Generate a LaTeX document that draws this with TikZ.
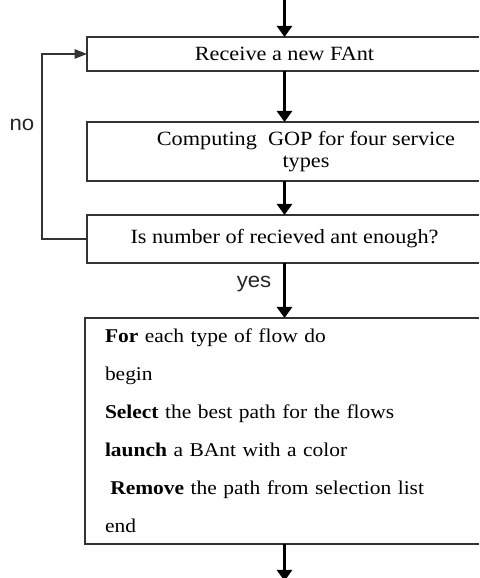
\documentclass[tikz,border=0pt]{standalone}
\usepackage{fontspec}
\setmainfont{Liberation Serif}[FakeStretch=1.1]
\setsansfont{Liberation Sans}[FakeStretch=1.05]
\usetikzlibrary{arrows.meta}
\newcommand\openbox[1]{\draw[frame] (#1.north -| edge) -- (#1.north west) -- (#1.south west) -- (#1.south -| edge);}

\begin{document}
\begin{tikzpicture}[every node/.style={outer sep=0pt, font=\fontsize{11.5}{12.5}\selectfont},
  stage/.style={minimum height=#1, align=center},
  frame/.style={draw=black!80, line width=0.8pt},
  flowarrow/.style={line width=2.2pt, -{Triangle[width=0.3cm,length=0.22cm]}},
  backarrow/.style={draw=black!80, line width=0.8pt, -{Triangle[width=0.19cm,length=0.25cm]}},
  answer/.style={font=\sffamily\fontsize{12}{13}\selectfont, text=black!85}]
\useasboundingbox (0,0) rectangle (9.58,11.56);
\coordinate (edge) at (9.58,0);

\node[stage=0.68cm, minimum width=7.9cm] (recv) at (5.69,10.48) {Receive a new FAnt};
\node[stage=1.18cm, minimum width=8.76cm] (gop) at (6.12,8.53) {Computing\ \ GOP for four service\\types};
\node[stage=0.96cm, minimum width=7.9cm] (check) at (5.69,6.78) {Is number of recieved ant enough?};
\node[stage=4.52cm, anchor=north west, text width=7.5cm, inner xsep=0.4cm, align=left,
  font=\fontsize{11.1}{21.6}\selectfont] (select) at (1.70,5.20)
  {\textbf{For} each type of flow do\\
   begin\\
   \textbf{Select} the best path for the flows\\
   \textbf{launch} a BAnt with a color\\
   \hspace{3pt}\textbf{Remove} the path from selection list\\
   end};
\openbox{recv}
\openbox{gop}
\openbox{check}
\openbox{select}

\node[answer] (no) at (0.44,9.06) {no};
\node[answer] (yes) at (5.08,5.88) {yes};

\coordinate (in) at (5.69,11.8);
\coordinate (out) at (5.69,-0.06);
\coordinate (loop) at (0.84,8.5);

\draw[flowarrow] (in) -- (recv.north);
\draw[flowarrow] (recv.south) -- (recv.south |- gop.north);
\draw[flowarrow] (check.north |- gop.south) -- (check.north);
\draw[flowarrow] (check.south) -- (check.south |- select.north);
\draw[flowarrow] (out |- select.south) -- (out);
\draw[backarrow] (check.west) -| (loop) |- (recv.west);
\end{tikzpicture}
\end{document}
